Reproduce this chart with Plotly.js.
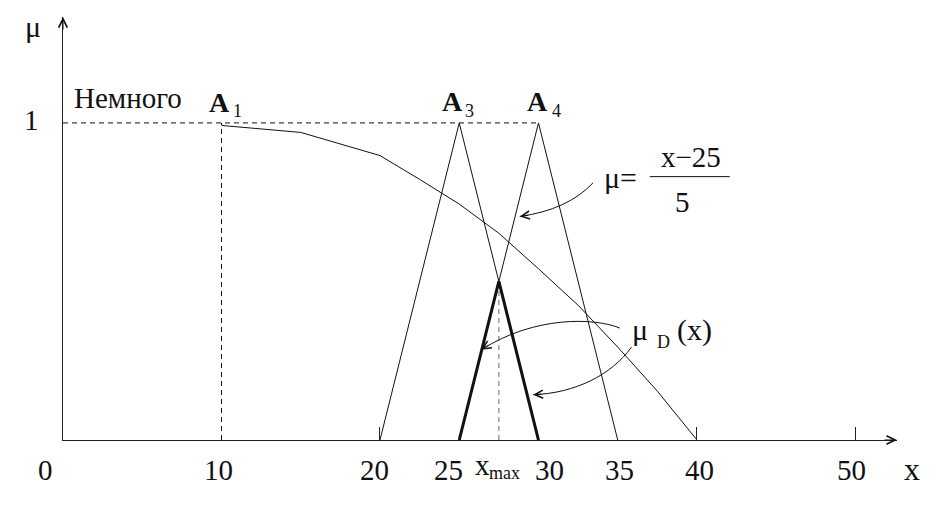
<!DOCTYPE html>
<html><head><meta charset="utf-8">
<script src="https://cdn.plot.ly/plotly-3.0.1.min.js"></script>
<style>html,body{margin:0;padding:0;background:#fff}#chart{width:951px;height:509px}</style>
</head><body><div id="chart"></div>
<script>
// A1 ("Немного") membership curve
const a1X = [10, 15, 20, 22.5, 25, 27.5, 30, 32.5, 35, 37.5, 40];
const a1Y = [0.992, 0.970, 0.897, 0.822, 0.744, 0.652, 0.540, 0.425, 0.293, 0.154, 0];
// A3 and A4 triangular sets
const a3X = [20, 25, 30];
const a3Y = [0, 1, 0];
const a4X = [25, 30, 35];
const a4Y = [0, 1, 0];
// D = A3 ∩ A4 (bold)
const dX = [25, 27.5, 30];
const dY = [0, 0.5, 0];
const xMax = 27.5;
const muMax = 0.5;
// axis labels
const tickVals = [0, 10, 20, 25, 30, 35, 40, 50];
const tickText = ['0', '10', '20', '25', '30', '35', '40', '50'];
const tickMarks = [20, 40, 50];

const SERIF = '"Liberation Serif", "Times New Roman", serif';
const INK = '#111';
const labelShift = {0: -18, 10: -3, 20: -5, 25: -11, 30: 11, 35: 2, 40: 3, 50: -4};

function line(x, y, w, dash, color) {
  return {x: x, y: y, type: 'scatter', mode: 'lines', hoverinfo: 'skip', showlegend: false,
    line: {color: color || INK, width: w, dash: dash || 'solid'}};
}

const traces = [
  line([0, a4X[1]], [a4Y[1], a4Y[1]], 1, '5px,4px'),
  line([a1X[0], a1X[0]], [0, 1], 1, '5px,4px'),
  line([xMax, xMax], [0, muMax], 1, '5px,4px', '#666'),
  line(a1X, a1Y, 1),
  line(a3X, a3Y, 1),
  line(a4X, a4Y, 1),
  line(dX, dY, 3)
];

function T(text, x, y, size, extra) {
  return Object.assign({text: text, x: x, y: y, xref: 'x', yref: 'y', showarrow: false,
    xanchor: 'center', yanchor: 'middle', borderpad: 0, font: {family: SERIF, size: size, color: INK}}, extra || {});
}
function head(x, y, ax, ay, size, extra) {
  return Object.assign({text: '', x: x, y: y, xref: 'x', yref: 'y', showarrow: true, ax: ax, ay: ay,
    arrowhead: 5, arrowsize: size || 1.6, arrowwidth: 1, arrowcolor: INK, standoff: 0}, extra || {});
}

const ann = [];
// below-axis labels: x in data, y relative to axis (paper 0 = x-axis)
tickVals.forEach((v, i) => ann.push(T(tickText[i], v, 0, 29, {yref: 'paper', yshift: -30, xshift: labelShift[v]})));
ann.push(T('x', xMax, 0, 29, {yref: 'paper', yshift: -25, xshift: -16}));
ann.push(T('max', xMax, 0, 18, {yref: 'paper', yshift: -33, xshift: 6}));
ann.push(T('x', 1, 0, 32, {xref: 'paper', yref: 'paper', yshift: -29, xshift: 15}));
ann.push(T('μ', 0, 1.304, 30, {xref: 'paper', xshift: -30}));
ann.push(T('1', 0, 1.010, 29, {xref: 'paper', xshift: -32}));
ann.push(T('Немного', 0.60, 1.080, 29, {xanchor: 'left'}));
ann.push(T('<b>A</b>', 9.89, 1.064, 28));
ann.push(T('1', 11.0, 1.036, 18));
ann.push(T('<b>A</b>', 24.56, 1.066, 28));
ann.push(T('3', 25.63, 1.037, 18));
ann.push(T('<b>A</b>', 29.92, 1.066, 28));
ann.push(T('4', 31.15, 1.037, 18));
ann.push(T('μ=', 34.06, 0.827, 30, {xanchor: 'left'}));
ann.push(T('x\u221225', 39.61, 0.893, 29));
ann.push(T('5', 39.08, 0.752, 29));
ann.push(T('μ', 36.39, 0.348, 30));
ann.push(T('D', 37.87, 0.309, 18));
ann.push(T('(x)', 39.86, 0.348, 30));
// arrowheads
ann.push(head(28.82, 0.705, 10, -1.4));
ann.push(head(26.40, 0.285, 8.4, -5.4));
ann.push(head(29.66, 0.143, 10, -0.5));
ann.push(head(52.62, 0, -14, 0, 1.7));
ann.push(head(0, 1.334, 0, 14, 1.7));

const shapes = [
  {type: 'line', xref: 'x', yref: 'y', x0: 37.02, x1: 42.07, y0: 0.8306, y1: 0.8306, line: {color: INK, width: 1}},
  {type: 'path', xref: 'x', yref: 'y', path: 'M 33.44,0.811 Q 31.85,0.726 28.82,0.705', line: {color: INK, width: 1}},
  {type: 'path', xref: 'x', yref: 'y', path: 'M 35.13,0.353 C 33.55,0.386 29.77,0.392 26.40,0.285', line: {color: INK, width: 1}},
  {type: 'path', xref: 'x', yref: 'y', path: 'M 35.87,0.293 C 34.63,0.206 32.29,0.147 29.66,0.143', line: {color: INK, width: 1}}
];

const layout = {
  width: 951, height: 509,
  margin: {l: 63, r: 54, t: 17, b: 69, pad: 0},
  paper_bgcolor: '#fff', plot_bgcolor: '#fff',
  showlegend: false,
  xaxis: {range: [0, 52.62], showgrid: false, zeroline: false, showline: true, linecolor: '#222', linewidth: 1,
    tickvals: tickMarks, ticks: 'inside', ticklen: 13, tickcolor: '#222', tickwidth: 1, showticklabels: false, fixedrange: true},
  yaxis: {range: [0, 1.334], showgrid: false, zeroline: false, showline: true, linecolor: '#222', linewidth: 1,
    ticks: '', showticklabels: false, fixedrange: true},
  annotations: ann,
  shapes: shapes
};

Plotly.newPlot('chart', traces, layout, {displayModeBar: false, staticPlot: true});
</script>
</body></html>
